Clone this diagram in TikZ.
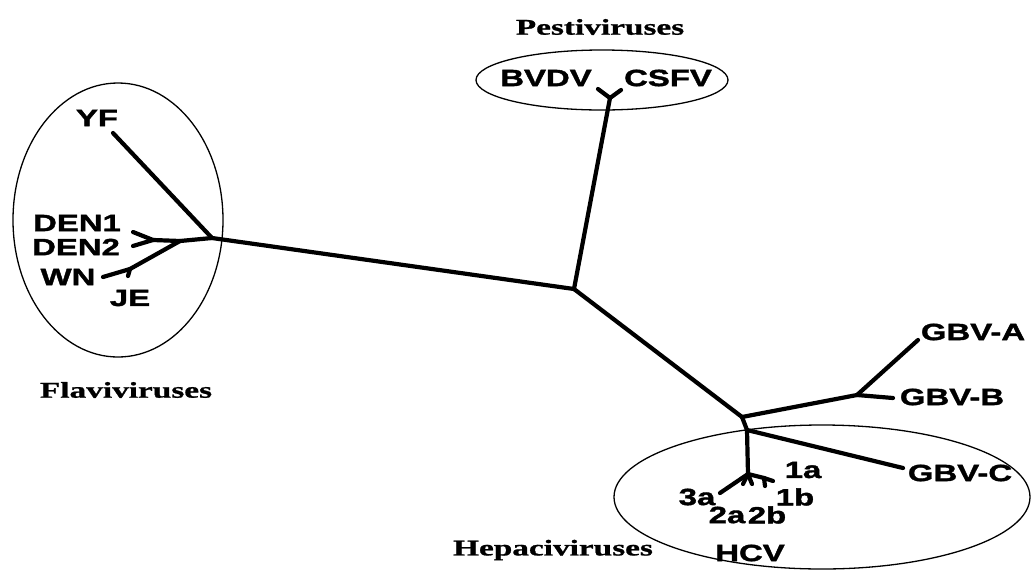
\documentclass[tikz,border=0pt]{standalone}
\usepackage{fontspec}
\usetikzlibrary{shapes.geometric}
\newfontfamily\tipfont[FakeStretch=1.4,FakeBold=1.6]{Liberation Sans Bold}
\newfontfamily\groupfont[FakeStretch=1.48,FakeBold=1]{Liberation Serif Bold}
\tikzset{
  tip/.style={font=\tipfont\fontsize{23.5}{23.5}\selectfont, inner sep=0pt},
  group/.style={font=\groupfont\fontsize{22.5}{22.5}\selectfont, inner sep=0pt},
  branch/.style={line width=4.2pt, line cap=round, line join=round},
  ring/.style={draw, ellipse, inner sep=0pt, line width=1.3pt}
}
\begin{document}
\begin{tikzpicture}[x=1pt, y=-1pt]
      \useasboundingbox (0,0) rectangle (1031,574);
      \path
        (118,220) node[ring, minimum width=210, minimum height=274] (flaviring){}
        (602,80) node[ring, minimum width=252, minimum height=60] (pestiring){}
        (822,497) node[ring, minimum width=416, minimum height=144] (hepring){};
      \path
        (574,289) coordinate (mid)
        (610,98) coordinate (pesti)
        (598,89) coordinate (bvdv)
        (621,90) coordinate (csfv)
        (212,238) coordinate (flavi)
        (113,133) coordinate (yf)
        (180,241) coordinate (fj)
        (153,240) coordinate (denj)
        (133,232) coordinate (den1)
        (133,246) coordinate (den2)
        (130,269) coordinate (wnj)
        (103,277) coordinate (wn)
        (128,276) coordinate (je)
        (742,417) coordinate (hep)
        (857,395) coordinate (gbv)
        (918,340) coordinate (gbva)
        (893,398) coordinate (gbvb)
        (747,430) coordinate (hcvj)
        (903,468) coordinate (gbvc)
        (748,474) coordinate (hcv)
        (720,493) coordinate (t3a)
        (743,484) coordinate (t2a)
        (752,484) coordinate (t2b)
        (764,478) coordinate (t1)
        (773,481) coordinate (t1a)
        (765,486) coordinate (t1b);
      \path
        (600,27) node[group] (pestilab){Pestiviruses}
        (126,390) node[group] (flavilab){Flaviviruses}
        (553,550) node[group] (hepalab){Hepaciviruses}
        (546,78) node[tip] (bvdvlab){BVDV}
        (668,78) node[tip] (csfvlab){CSFV}
        (97,118) node[tip] (yflab){YF}
        (77,223) node[tip] (den1lab){DEN1}
        (76,247) node[tip] (den2lab){DEN2}
        (68,277) node[tip] (wnlab){WN}
        (130,298) node[tip] (jelab){JE}
        (973,332) node[tip] (gbvalab){GBV-A}
        (952,397) node[tip] (gbvblab){GBV-B}
        (960,473) node[tip] (gbvclab){GBV-C}
        (803,470) node[tip] (l1a){1a}
        (795,497) node[tip] (l1b){1b}
        (697,497) node[tip] (l3a){3a}
        (727,515) node[tip] (l2a){2a}
        (767,515) node[tip] (l2b){2b}
        (750,553) node[tip] (hcvlab){HCV};
      \begin{scope}[branch]
        \draw (mid) to (pesti);
        \draw (pesti) to (bvdv);
        \draw (pesti) to (csfv);
        \draw (mid) to (flavi);
        \draw (flavi) to (yf);
        \draw (flavi) to (fj);
        \draw (fj) to (denj);
        \draw (denj) to (den1);
        \draw (denj) to (den2);
        \draw (fj) to (wnj);
        \draw (wnj) to (wn);
        \draw (wnj) to (je);
        \draw (mid) to (hep);
        \draw (hep) to (gbv);
        \draw (gbv) to (gbva);
        \draw (gbv) to (gbvb);
        \draw (hep) to (hcvj);
        \draw (hcvj) to (gbvc);
        \draw (hcvj) to (hcv);
        \draw (hcv) to (t3a);
        \draw (hcv) to (t2a);
        \draw (hcv) to (t2b);
        \draw (hcv) to (t1);
        \draw (t1) to (t1a);
        \draw (t1) to (t1b);
      \end{scope}
    \end{tikzpicture}
\end{document}
